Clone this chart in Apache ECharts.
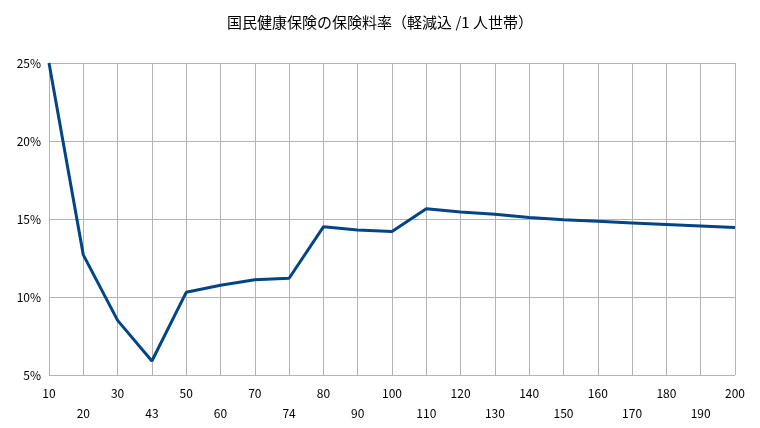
<!DOCTYPE html>
<html>
<head>
<meta charset="utf-8">
<script src="https://cdn.jsdelivr.net/npm/echarts@6/dist/echarts.min.js"></script>
<style>html,body{margin:0;padding:0;background:#fff}#main{width:760px;height:428px}</style>
</head>
<body>
<div id="main"></div>
<script>
// 所得（万円）
const incomes = ['10', '20', '30', '43', '50', '60', '70', '74', '80', '90', '100',
  '110', '120', '130', '140', '150', '160', '170', '180', '190', '200']
// 保険料率（%）
const rates = [25, 12.7, 8.5, 5.9, 10.3, 10.75, 11.1, 11.2, 14.5, 14.3, 14.2,
  15.65, 15.45, 15.3, 15.1, 14.95, 14.85, 14.75, 14.65, 14.55, 14.45]

const chart = echarts.init(document.getElementById('main'))
chart.setOption({
  animation: false,
  textStyle: { fontFamily: '"Noto Sans CJK JP", "Noto Sans", sans-serif' },
  title: {
    text: '国民健康保険の保険料率（軽減込 /1 人世帯）',
    left: 'center',
    top: 10,
    textStyle: { fontSize: 15, fontWeight: 'normal', color: '#000' }
  },
  grid: { left: 49, right: 25, top: 63, bottom: 53 },
  xAxis: {
    type: 'category',
    boundaryGap: false,
    data: incomes,
    axisLine: { show: false },
    axisTick: { show: false },
    splitLine: { show: true, lineStyle: { color: '#b3b3b3' } },
    axisLabel: {
      interval: 0,
      color: '#000',
      fontSize: 12,
      lineHeight: 20,
      formatter: (v, i) => (i % 2 ? '\n' + v : v)
    }
  },
  yAxis: {
    type: 'value',
    min: 5,
    max: 25,
    interval: 5,
    axisLine: { show: true, lineStyle: { color: '#b3b3b3' } },
    splitLine: { lineStyle: { color: '#b3b3b3' } },
    axisLabel: { color: '#000', fontSize: 12, formatter: '{value}%' }
  },
  series: [{
    type: 'line',
    data: rates,
    symbol: 'none',
    lineStyle: { color: '#004586', width: 3 }
  }]
})
</script>
</body>
</html>
